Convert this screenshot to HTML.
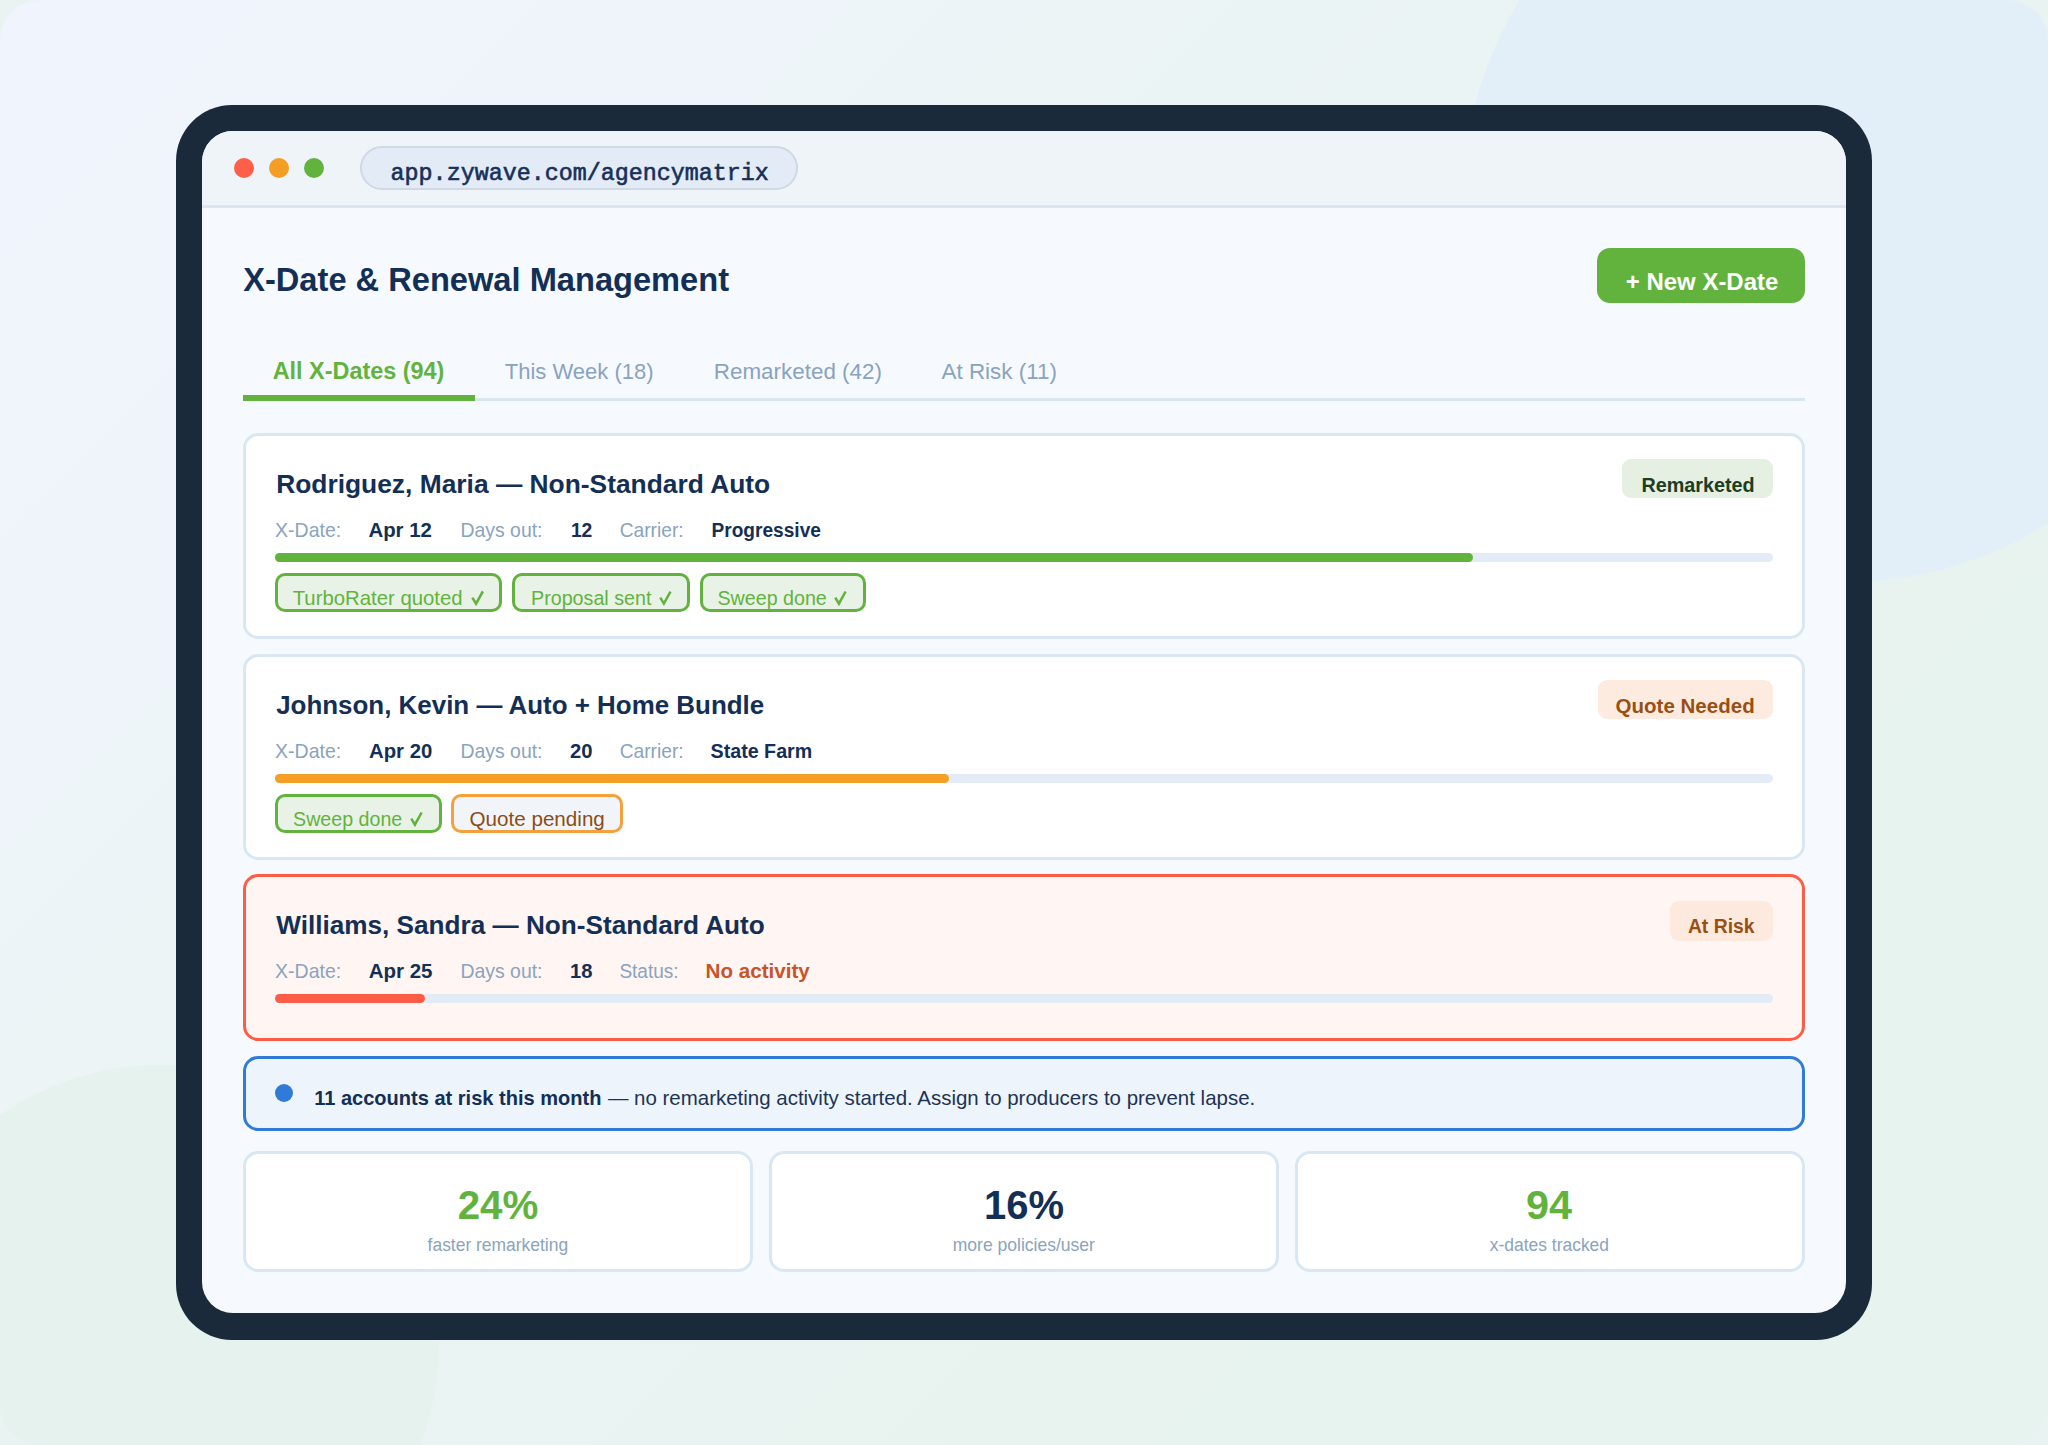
<!DOCTYPE html>
<html><head><meta charset="utf-8"><title>X-Date &amp; Renewal Management</title>
<style>
html,body{margin:0;padding:0;width:2048px;height:1445px;overflow:hidden;background:#e8f3f2;}
body{position:relative;font-family:"Liberation Sans", sans-serif;}
.bg{position:absolute;left:0;top:0;width:2048px;height:1445px;border-radius:40px;overflow:hidden;
background:linear-gradient(135deg,#f1f4fd 0%,#eef4f9 24%,#ebf4f4 38%,#e8f3f0 70%,#e7f3ee 100%);}
.c1{position:absolute;left:1463px;top:-182px;width:764px;height:764px;border-radius:50%;background:#e2eff8;}
.c2{position:absolute;left:-119px;top:1065px;width:558px;height:558px;border-radius:50%;background:#e5f2ee;}
.t{position:absolute;white-space:nowrap;}
.r{position:absolute;}
</style></head><body>
<div class="bg"><div class="c1"></div><div class="c2"></div></div>
<div class="r" style="left:176px;top:105px;width:1696px;height:1235px;background:#1b2a3b;border-radius:56px;"></div>
<div class="r" style="left:202px;top:131px;width:1644px;height:1182px;background:#f6fafe;border-radius:31px;"></div>
<div class="r" style="left:202px;top:131px;width:1644px;height:77px;background:#eff4f8;border-radius:31px 31px 0 0;border-bottom:3px solid #dbe6f1;box-sizing:border-box;"></div>
<div class="r" style="left:234px;top:158px;width:20px;height:20px;background:#fe5f48;border-radius:50%;"></div>
<div class="r" style="left:269px;top:158px;width:20px;height:20px;background:#f59e26;border-radius:50%;"></div>
<div class="r" style="left:304px;top:158px;width:20px;height:20px;background:#62b33d;border-radius:50%;"></div>
<div class="r" style="left:360px;top:146px;width:438px;height:44px;background:#e3ecf6;border:2px solid #cfd9e4;border-radius:22px;box-sizing:border-box;"></div>
<div class="t tx" style="left:390.60px;top:163.24px;font-size:23.35px;line-height:23.35px;font-family:'Liberation Mono', monospace;color:#17305a;-webkit-text-stroke:0.6px #17305a;">app.zywave.com/agencymatrix</div>
<div class="t tx" style="left:243.20px;top:264.31px;font-size:32.64px;line-height:32.64px;font-family:'Liberation Sans', sans-serif;font-weight:700;color:#142f55;">X-Date &amp; Renewal Management</div>
<div class="r" style="left:1597px;top:248px;width:208px;height:55px;background:#62b33d;border-radius:13px;"></div>
<div class="t tx" style="left:1625.80px;top:269.70px;font-size:23.97px;line-height:23.97px;font-family:'Liberation Sans', sans-serif;font-weight:700;color:#ffffff;">+ New X-Date</div>
<div class="r" style="left:243px;top:398px;width:1562px;height:3px;background:#d9e6f2;"></div>
<div class="r" style="left:243px;top:395px;width:232px;height:6px;background:#62b33d;"></div>
<div class="t tx" style="left:272.70px;top:360.01px;font-size:23.41px;line-height:23.41px;font-family:'Liberation Sans', sans-serif;font-weight:700;color:#62b33d;">All X-Dates (94)</div>
<div class="t tx" style="left:504.70px;top:361.02px;font-size:22.03px;line-height:22.03px;font-family:'Liberation Sans', sans-serif;color:#8aa3be;transform:scaleY(1.028);transform-origin:0 18.65px;">This Week (18)</div>
<div class="t tx" style="left:713.80px;top:361.02px;font-size:22.41px;line-height:22.41px;font-family:'Liberation Sans', sans-serif;color:#8aa3be;transform:scaleY(1.010);transform-origin:0 18.97px;">Remarketed (42)</div>
<div class="t tx" style="left:941.50px;top:361.01px;font-size:22.43px;line-height:22.43px;font-family:'Liberation Sans', sans-serif;color:#8aa3be;transform:scaleY(1.009);transform-origin:0 18.98px;">At Risk (11)</div>
<div class="r" style="left:243px;top:433px;width:1562px;height:206px;background:#ffffff;border:3px solid #d9e7f4;border-radius:15px;box-sizing:border-box;"></div>
<div class="t tx" style="left:276.20px;top:471.20px;font-size:26.37px;line-height:26.37px;font-family:'Liberation Sans', sans-serif;font-weight:700;color:#142f55;">Rodriguez, Maria — Non-Standard Auto</div>
<div class="r" style="left:1622px;top:459px;width:151px;height:39px;background:#e6f0e2;border-radius:9px;"></div>
<div class="t tx" style="left:1641.40px;top:476.21px;font-size:19.79px;line-height:19.79px;font-family:'Liberation Sans', sans-serif;font-weight:700;color:#1c3d20;">Remarketed</div>
<div class="t tx" style="left:275.10px;top:521.22px;font-size:19.50px;line-height:19.50px;font-family:'Liberation Sans', sans-serif;color:#8aa3be;transform:scaleY(1.034);transform-origin:0 16.51px;">X-Date:</div>
<div class="t tx" style="left:368.40px;top:520.21px;font-size:20.42px;line-height:20.42px;font-family:'Liberation Sans', sans-serif;font-weight:700;color:#142f55;">Apr 12</div>
<div class="t tx" style="left:460.50px;top:521.22px;font-size:19.41px;line-height:19.41px;font-family:'Liberation Sans', sans-serif;color:#8aa3be;transform:scaleY(1.039);transform-origin:0 16.43px;">Days out:</div>
<div class="t tx" style="left:570.90px;top:521.22px;font-size:19.28px;line-height:19.28px;font-family:'Liberation Sans', sans-serif;font-weight:700;color:#142f55;transform:scaleY(1.046);transform-origin:0 16.32px;">12</div>
<div class="t tx" style="left:619.70px;top:521.22px;font-size:19.21px;line-height:19.21px;font-family:'Liberation Sans', sans-serif;color:#8aa3be;transform:scaleY(1.050);transform-origin:0 16.26px;">Carrier:</div>
<div class="t tx" style="left:711.50px;top:521.21px;font-size:19.11px;line-height:19.11px;font-family:'Liberation Sans', sans-serif;font-weight:700;color:#142f55;transform:scaleY(1.055);transform-origin:0 16.18px;">Progressive</div>
<div class="r" style="left:275px;top:553px;width:1498px;height:9px;background:#e3ecf6;border-radius:5px;"></div>
<div class="r" style="left:275px;top:553px;width:1198px;height:9px;background:#62b33d;border-radius:5px;"></div>
<div class="r" style="left:275px;top:573px;width:227px;height:39px;background:#e9f2e7;border:3px solid #62b33d;border-radius:10px;box-sizing:border-box;"></div>
<div class="t tx" style="left:292.70px;top:588.31px;font-size:20.34px;line-height:20.34px;font-family:'Liberation Sans', sans-serif;color:#62b33d;">TurboRater quoted</div>
<svg class="r" style="left:471.0px;top:590.3px;overflow:visible" width="13.1" height="15.5" viewBox="0 0 13 15.5"><path d="M1.3 7.6 L5.0 13.7 L11.8 1.4" fill="none" stroke="#62b33d" stroke-width="2.6" stroke-linecap="butt" stroke-linejoin="miter"/></svg>
<div class="r" style="left:512px;top:573px;width:178px;height:39px;background:#e9f2e7;border:3px solid #62b33d;border-radius:10px;box-sizing:border-box;"></div>
<div class="t tx" style="left:531.00px;top:589.30px;font-size:19.69px;line-height:19.69px;font-family:'Liberation Sans', sans-serif;color:#62b33d;">Proposal sent</div>
<svg class="r" style="left:658.9px;top:590.3px;overflow:visible" width="12.7" height="15.5" viewBox="0 0 13 15.5"><path d="M1.3 7.6 L5.0 13.7 L11.8 1.4" fill="none" stroke="#62b33d" stroke-width="2.6" stroke-linecap="butt" stroke-linejoin="miter"/></svg>
<div class="r" style="left:700px;top:573px;width:166px;height:39px;background:#e9f2e7;border:3px solid #62b33d;border-radius:10px;box-sizing:border-box;"></div>
<div class="t tx" style="left:717.50px;top:589.30px;font-size:19.66px;line-height:19.66px;font-family:'Liberation Sans', sans-serif;color:#62b33d;">Sweep done</div>
<svg class="r" style="left:834.2px;top:590.3px;overflow:visible" width="12.8" height="15.5" viewBox="0 0 13 15.5"><path d="M1.3 7.6 L5.0 13.7 L11.8 1.4" fill="none" stroke="#62b33d" stroke-width="2.6" stroke-linecap="butt" stroke-linejoin="miter"/></svg>
<div class="r" style="left:243px;top:654px;width:1562px;height:206px;background:#ffffff;border:3px solid #d9e7f4;border-radius:15px;box-sizing:border-box;"></div>
<div class="t tx" style="left:276.20px;top:693.20px;font-size:25.93px;line-height:25.93px;font-family:'Liberation Sans', sans-serif;font-weight:700;color:#142f55;">Johnson, Kevin — Auto + Home Bundle</div>
<div class="r" style="left:1598px;top:680px;width:175px;height:39px;background:#fdebe0;border-radius:9px;"></div>
<div class="t tx" style="left:1615.60px;top:696.20px;font-size:20.52px;line-height:20.52px;font-family:'Liberation Sans', sans-serif;font-weight:700;color:#9a4f12;">Quote Needed</div>
<div class="t tx" style="left:275.10px;top:742.22px;font-size:19.50px;line-height:19.50px;font-family:'Liberation Sans', sans-serif;color:#8aa3be;transform:scaleY(1.034);transform-origin:0 16.51px;">X-Date:</div>
<div class="t tx" style="left:369.00px;top:741.20px;font-size:20.35px;line-height:20.35px;font-family:'Liberation Sans', sans-serif;font-weight:700;color:#142f55;">Apr 20</div>
<div class="t tx" style="left:460.50px;top:742.22px;font-size:19.41px;line-height:19.41px;font-family:'Liberation Sans', sans-serif;color:#8aa3be;transform:scaleY(1.039);transform-origin:0 16.43px;">Days out:</div>
<div class="t tx" style="left:570.00px;top:741.21px;font-size:20.27px;line-height:20.27px;font-family:'Liberation Sans', sans-serif;font-weight:700;color:#142f55;">20</div>
<div class="t tx" style="left:619.70px;top:742.22px;font-size:19.21px;line-height:19.21px;font-family:'Liberation Sans', sans-serif;color:#8aa3be;transform:scaleY(1.050);transform-origin:0 16.26px;">Carrier:</div>
<div class="t tx" style="left:710.60px;top:742.22px;font-size:19.67px;line-height:19.67px;font-family:'Liberation Sans', sans-serif;font-weight:700;color:#142f55;transform:scaleY(1.025);transform-origin:0 16.65px;">State Farm</div>
<div class="r" style="left:275px;top:774px;width:1498px;height:9px;background:#e3ecf6;border-radius:5px;"></div>
<div class="r" style="left:275px;top:774px;width:674px;height:9px;background:#f59f27;border-radius:5px;"></div>
<div class="r" style="left:275px;top:794px;width:167px;height:39px;background:#e9f2e7;border:3px solid #62b33d;border-radius:10px;box-sizing:border-box;"></div>
<div class="t tx" style="left:293.10px;top:810.31px;font-size:19.64px;line-height:19.64px;font-family:'Liberation Sans', sans-serif;color:#62b33d;">Sweep done</div>
<svg class="r" style="left:409.8px;top:811.3px;overflow:visible" width="12.8" height="15.5" viewBox="0 0 13 15.5"><path d="M1.3 7.6 L5.0 13.7 L11.8 1.4" fill="none" stroke="#62b33d" stroke-width="2.6" stroke-linecap="butt" stroke-linejoin="miter"/></svg>
<div class="r" style="left:451px;top:794px;width:172px;height:39px;background:#f1f5fa;border:3px solid #f5a03a;border-radius:10px;box-sizing:border-box;"></div>
<div class="t tx" style="left:469.50px;top:809.30px;font-size:20.64px;line-height:20.64px;font-family:'Liberation Sans', sans-serif;color:#8c4c15;">Quote pending</div>
<div class="r" style="left:243px;top:874px;width:1562px;height:167px;background:#fff5f3;border:3px solid #fd5d46;border-radius:15px;box-sizing:border-box;"></div>
<div class="t tx" style="left:276.20px;top:912.20px;font-size:26.16px;line-height:26.16px;font-family:'Liberation Sans', sans-serif;font-weight:700;color:#142f55;">Williams, Sandra — Non-Standard Auto</div>
<div class="r" style="left:1670px;top:901px;width:103px;height:40px;background:#fde9de;border-radius:9px;"></div>
<div class="t tx" style="left:1687.90px;top:917.21px;font-size:19.36px;line-height:19.36px;font-family:'Liberation Sans', sans-serif;font-weight:700;color:#9a4f12;">At Risk</div>
<div class="t tx" style="left:275.10px;top:962.22px;font-size:19.50px;line-height:19.50px;font-family:'Liberation Sans', sans-serif;color:#8aa3be;transform:scaleY(1.034);transform-origin:0 16.51px;">X-Date:</div>
<div class="t tx" style="left:368.70px;top:961.20px;font-size:20.51px;line-height:20.51px;font-family:'Liberation Sans', sans-serif;font-weight:700;color:#142f55;">Apr 25</div>
<div class="t tx" style="left:460.50px;top:962.22px;font-size:19.41px;line-height:19.41px;font-family:'Liberation Sans', sans-serif;color:#8aa3be;transform:scaleY(1.039);transform-origin:0 16.43px;">Days out:</div>
<div class="t tx" style="left:570.00px;top:961.21px;font-size:20.18px;line-height:20.18px;font-family:'Liberation Sans', sans-serif;font-weight:700;color:#142f55;">18</div>
<div class="t tx" style="left:619.40px;top:962.21px;font-size:19.00px;line-height:19.00px;font-family:'Liberation Sans', sans-serif;color:#8aa3be;transform:scaleY(1.061);transform-origin:0 16.09px;">Status:</div>
<div class="t tx" style="left:705.60px;top:961.20px;font-size:20.61px;line-height:20.61px;font-family:'Liberation Sans', sans-serif;font-weight:700;color:#c8542a;">No activity</div>
<div class="r" style="left:275px;top:994px;width:1498px;height:9px;background:#e3ecf6;border-radius:5px;"></div>
<div class="r" style="left:275px;top:994px;width:149.5px;height:9px;background:#fd5d46;border-radius:5px;"></div>
<div class="r" style="left:243px;top:1056px;width:1562px;height:75px;background:#eef4fc;border:3px solid #2f7bd7;border-radius:15px;box-sizing:border-box;"></div>
<div class="r" style="left:275px;top:1084px;width:18px;height:18px;background:#2f7bd7;border-radius:50%;"></div>
<div class="t tx" style="left:314.20px;top:1088.30px;font-size:20.04px;line-height:20.04px;font-family:'Liberation Sans', sans-serif;font-weight:700;color:#142f55;transform:scaleY(1.047);transform-origin:0 16.97px;">11 accounts at risk this month</div>
<div class="t tx" style="left:607.90px;top:1088.32px;font-size:20.48px;line-height:20.48px;font-family:'Liberation Sans', sans-serif;color:#1d3354;transform:scaleY(1.025);transform-origin:0 17.34px;">— no remarketing activity started. Assign to producers to prevent lapse.</div>
<div class="r" style="left:243px;top:1151px;width:510px;height:121px;background:#ffffff;border:3px solid #d9e7f4;border-radius:15px;box-sizing:border-box;"></div>
<div class="t tx" style="left:457.70px;top:1185.32px;font-size:40.35px;line-height:40.35px;font-family:'Liberation Sans', sans-serif;font-weight:700;color:#62b33d;transform:scaleY(1.020);transform-origin:0 34.16px;">24%</div>
<div class="t tx" style="left:427.60px;top:1237.33px;font-size:17.44px;line-height:17.44px;font-family:'Liberation Sans', sans-serif;color:#8aa3be;transform:scaleY(1.022);transform-origin:0 14.77px;">faster remarketing</div>
<div class="r" style="left:769px;top:1151px;width:510px;height:121px;background:#ffffff;border:3px solid #d9e7f4;border-radius:15px;box-sizing:border-box;"></div>
<div class="t tx" style="left:984.10px;top:1186.34px;font-size:39.95px;line-height:39.95px;font-family:'Liberation Sans', sans-serif;font-weight:700;color:#142f55;transform:scaleY(1.030);transform-origin:0 33.82px;">16%</div>
<div class="t tx" style="left:952.70px;top:1237.32px;font-size:17.54px;line-height:17.54px;font-family:'Liberation Sans', sans-serif;color:#8aa3be;transform:scaleY(1.017);transform-origin:0 14.84px;">more policies/user</div>
<div class="r" style="left:1295px;top:1151px;width:510px;height:121px;background:#ffffff;border:3px solid #d9e7f4;border-radius:15px;box-sizing:border-box;"></div>
<div class="t tx" style="left:1526.00px;top:1184.30px;font-size:41.44px;line-height:41.44px;font-family:'Liberation Sans', sans-serif;font-weight:700;color:#62b33d;">94</div>
<div class="t tx" style="left:1489.80px;top:1237.33px;font-size:17.44px;line-height:17.44px;font-family:'Liberation Sans', sans-serif;color:#8aa3be;transform:scaleY(1.023);transform-origin:0 14.76px;">x-dates tracked</div>
</body></html>
